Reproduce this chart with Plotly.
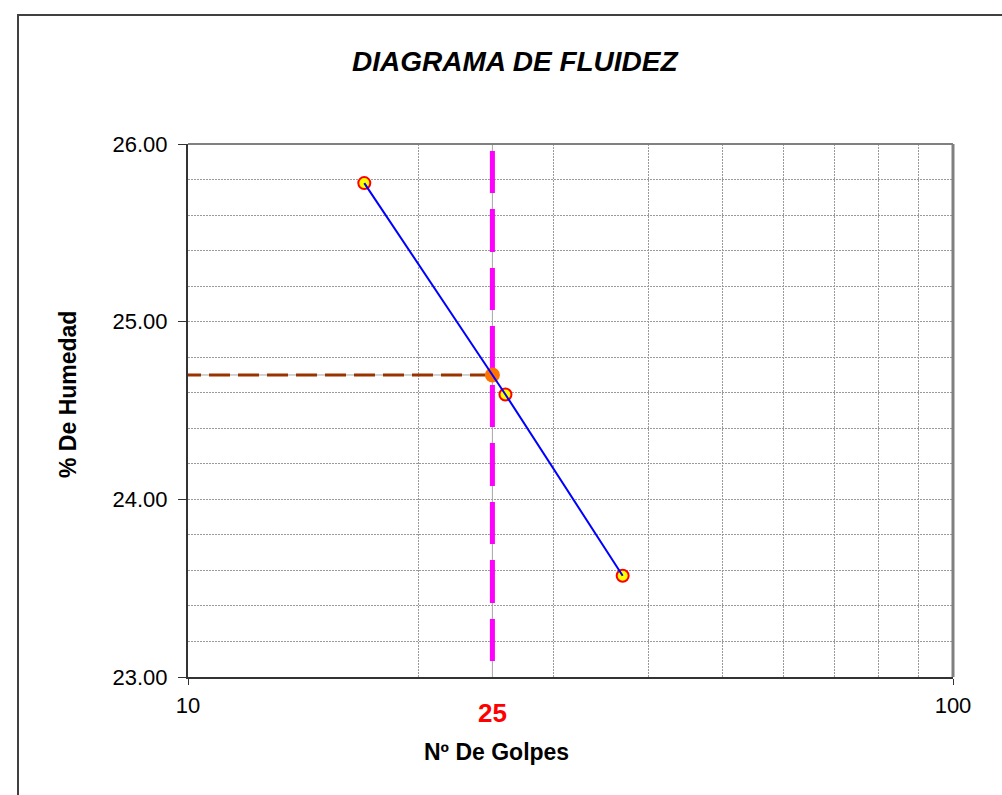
import plotly.graph_objects as go
import math

# ---- data ----
golpes = [17, 26, 37]
humedad = [25.78, 24.59, 23.57]
golpes_ref = 25
humedad_ref = 24.70
y_min, y_max = 23.0, 26.0
x_min, x_max = 10, 100
y_ticks = [23.0, 24.0, 25.0, 26.0]
y_tick_text = ["23.00", "24.00", "25.00", "26.00"]

FONT = "Liberation Sans, Arial, sans-serif"
GRID = "#9A9A9A"
GRID_DASH = "2px,1px"

fig = go.Figure()

# thin grey guide lines
fig.add_trace(go.Scatter(x=[golpes_ref, golpes_ref], y=[y_min, y_max], mode="lines",
                         line=dict(color="#A6A6A6", width=1), hoverinfo="skip", showlegend=False))
fig.add_trace(go.Scatter(x=[x_min, golpes_ref], y=[humedad_ref, humedad_ref], mode="lines",
                         line=dict(color="#A6A6A6", width=1), hoverinfo="skip", showlegend=False))

# magenta dashed vertical at 25
mag_dash = ["0px", "7px"]
for k in range(10):
    mag_dash += ["42px" if k % 2 == 0 else "43px", "16px"]
fig.add_trace(go.Scatter(x=[golpes_ref, golpes_ref], y=[y_max, y_min], mode="lines",
                         line=dict(color="#FF00FF", width=5, dash=",".join(mag_dash)),
                         hoverinfo="skip", showlegend=False))

# brown dashed horizontal
br_dash = ["13px", "8px"] + ["21px", "8px"] * 14
fig.add_trace(go.Scatter(x=[x_min, golpes_ref], y=[humedad_ref, humedad_ref], mode="lines",
                         line=dict(color="#993300", width=3, dash=",".join(br_dash)),
                         hoverinfo="skip", showlegend=False))

# orange point
fig.add_trace(go.Scatter(x=[golpes_ref], y=[humedad_ref], mode="markers",
                         marker=dict(color="#FF7400", size=15, line=dict(width=0)),
                         showlegend=False))

# yellow markers
fig.add_trace(go.Scatter(x=golpes, y=humedad, mode="markers",
                         marker=dict(color="#FFFF00", size=12, line=dict(color="#FF0000", width=2)),
                         showlegend=False))
# blue line on top
fig.add_trace(go.Scatter(x=golpes, y=humedad, mode="lines",
                         line=dict(color="#0000FF", width=2), showlegend=False))

W, H = 1002, 795
L, R, T, B = 188, 49, 144, 118
pw, ph = W - L - R, H - T - B

def px2paper_x(px):
    return (px - L) / pw

def py2paper_y(py):
    return (H - B - py) / ph

fig.update_layout(
    width=W, height=H,
    margin=dict(l=L, r=R, t=T, b=B, pad=0),
    paper_bgcolor="white", plot_bgcolor="white",
    font=dict(family=FONT, color="black", size=22),
    showlegend=False,
    xaxis=dict(
        type="log", range=[math.log10(x_min), math.log10(x_max)],
        tickvals=[10, 100], ticktext=["10", "100"],
        ticks="outside", ticklen=6, tickwidth=1, tickcolor="#333",
        showline=True, linecolor="#333", linewidth=2,
        showgrid=False, zeroline=False,
        tickfont=dict(size=22, family=FONT),
        ticklabelstandoff=2,
        minor=dict(dtick="D1", showgrid=True, gridcolor=GRID, griddash=GRID_DASH,
                   gridwidth=1, ticks=""),
    ),
    yaxis=dict(
        range=[y_min, y_max],
        tickvals=y_ticks, ticktext=y_tick_text,
        ticks="outside", ticklen=8, tickwidth=1, tickcolor="#333",
        showline=True, linecolor="#333", linewidth=2,
        showgrid=True, gridcolor=GRID, griddash=GRID_DASH, gridwidth=1,
        zeroline=False,
        tickfont=dict(size=22, family=FONT),
        ticklabelstandoff=6,
        minor=dict(dtick=0.2, showgrid=True, gridcolor=GRID, griddash=GRID_DASH,
                   gridwidth=1, ticks=""),
    ),
    shapes=[
        # outer chart frame
        dict(type="rect", xref="paper", yref="paper",
             x0=px2paper_x(18), x1=px2paper_x(1020), y0=py2paper_y(810), y1=py2paper_y(15),
             line=dict(color="#404040", width=2), fillcolor="rgba(0,0,0,0)", layer="below"),
        # plot area top/right in grey
        dict(type="line", xref="paper", yref="paper", x0=0, x1=1, y0=1, y1=1,
             line=dict(color="#808080", width=2)),
        dict(type="line", xref="paper", yref="paper", x0=1, x1=1, y0=0, y1=1,
             line=dict(color="#808080", width=3)),
    ],
    annotations=[
        dict(text="<b><i>DIAGRAMA DE FLUIDEZ</i></b>", xref="paper", yref="paper",
             x=px2paper_x(515), y=py2paper_y(61), xanchor="center", yanchor="middle",
             showarrow=False, font=dict(size=28, family=FONT, color="black")),
        dict(text="<b>Nº De Golpes</b>", xref="paper", yref="paper",
             x=px2paper_x(496), y=py2paper_y(752), xanchor="center", yanchor="middle",
             showarrow=False, font=dict(size=23, family=FONT, color="black")),
        dict(text="<b>% De Humedad</b>", xref="paper", yref="paper",
             x=px2paper_x(68), y=py2paper_y(395), xanchor="center", yanchor="middle",
             textangle=-90, showarrow=False, font=dict(size=23, family=FONT, color="black")),
        dict(text="<b>25</b>", xref="x", yref="paper",
             x=math.log10(golpes_ref), y=py2paper_y(713), xanchor="center", yanchor="middle",
             showarrow=False, font=dict(size=26, family=FONT, color="#FF0000")),
    ],
)

fig.write_html("out.html")
